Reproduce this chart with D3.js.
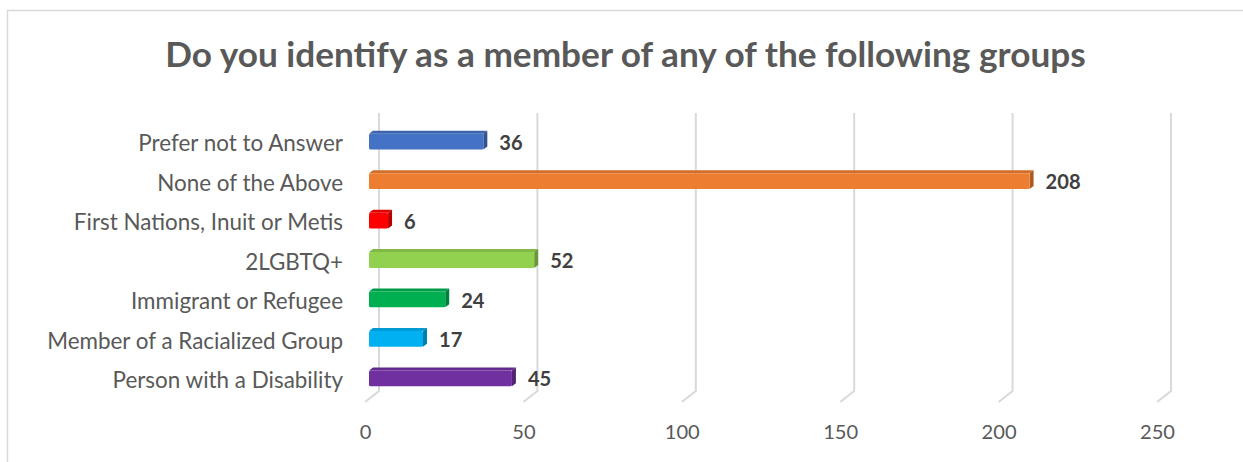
<!DOCTYPE html>
<html>
<head>
<meta charset="utf-8">
<script src="https://cdn.jsdelivr.net/npm/d3@7"></script>
<style>
  body { margin: 0; background: #fff; }
  text { font-family: Lato, "Open Sans", sans-serif; }
</style>
</head>
<body>
<div id="chart"></div>
<script>
var title = 'Do you identify as a member of any of the following groups';
var categories = ['Prefer not to Answer', 'None of the Above', 'First Nations, Inuit or Metis',
                  '2LGBTQ+', 'Immigrant or Refugee', 'Member of a Racialized Group', 'Person with a Disability'];
var values = [36, 208, 6, 52, 24, 17, 45];
var colors = ['#4472c4', '#ed7d31', '#ff0000', '#92d050', '#00b050', '#00b0f0', '#7030a0'];
var tickValues = [0, 50, 100, 150, 200, 250];

var width = 1243, height = 462,
    depth = {x: 4, y: -3};   // bar 3d offset

var svg = d3.select('#chart').append('svg')
    .attr('width', width)
    .attr('height', height);

// chart frame (runs off the right and bottom of the picture)
svg.append('rect')
    .attr('x', 7.5).attr('y', 10.5)
    .attr('width', 1400).attr('height', 600)
    .attr('fill', 'none')
    .attr('stroke', '#d9d9d9')
    .attr('stroke-width', 1.5);

// scales: bars sit at mid depth, gridlines on back wall, labels on the front edge
var xBar = d3.scaleLinear().domain([0, 250]).range([369, 1163]);
var xBack = d3.scaleLinear().domain([0, 250]).range([379, 1171]);
var xFront = d3.scaleLinear().domain([0, 250]).range([365, 1157]);
var y = d3.scaleBand().domain(categories).range([122, 398])
    .paddingInner(0.6).paddingOuter(0.3);

// shrink/grow a font so text spans the wanted width
function fitFont(sel, target, size) {
    sel.style('font-size', size + 'px');
    var w = d3.max(sel.nodes(), function (n) { return n.getComputedTextLength(); });
    sel.style('font-size', (size * target / w) + 'px');
}

// title
var t = svg.append('text')
    .attr('x', 625.5).attr('y', 67)
    .attr('text-anchor', 'middle')
    .attr('fill', '#595959')
    .style('font-weight', 'bold')
    .text(title);
fitFont(t, 921, 28);

// gridlines
svg.append('g').selectAll('path')
    .data(tickValues)
    .join('path')
    .attr('d', function (d) {
        return 'M' + xBack(d) + ',113V391L' + xFront(d) + ',402';
    })
    .attr('fill', 'none')
    .attr('stroke', '#d9d9d9')
    .attr('stroke-width', 2);

// x axis labels
var xAxis = d3.axisBottom(xFront).tickValues(tickValues).tickSize(0).tickPadding(0);
var ax = svg.append('g').attr('transform', 'translate(0,439)').call(xAxis);
ax.select('.domain').remove();
ax.selectAll('text')
    .attr('y', 0).attr('dy', 0)
    .attr('fill', '#595959')
    .style('font-family', 'Lato, "Open Sans", sans-serif');
fitFont(ax.selectAll('text').filter(function (d) { return d === 250; }), 35, 20);
ax.selectAll('text').style('font-size', ax.selectAll('text').filter(function (d) { return d === 250; }).style('font-size'));

// category labels
var cats = svg.append('g').selectAll('text')
    .data(categories)
    .join('text')
    .attr('x', 343)
    .attr('y', function (d) { return y(d) + y.bandwidth() / 2 + 4; })
    .attr('dominant-baseline', 'middle')
    .attr('text-anchor', 'end')
    .attr('fill', '#595959')
    .text(function (d) { return d; });
fitFont(cats, 296, 20);

// 3d bars
var bars = svg.append('g').selectAll('g')
    .data(values)
    .join('g');

bars.append('path') // top face
    .attr('d', function (d, i) {
        var x0 = xBar(0), x1 = xBar(d), y0 = y(categories[i]);
        return 'M' + x0 + ',' + y0 + 'L' + x1 + ',' + y0 + 'L' + (x1 + depth.x) + ',' + (y0 + depth.y) +
            'L' + (x0 + depth.x) + ',' + (y0 + depth.y) + 'Z';
    })
    .attr('fill', function (d, i) { return d3.color(colors[i]).darker(0.35); });

bars.append('path') // right face
    .attr('d', function (d, i) {
        var x1 = xBar(d), y0 = y(categories[i]), h = y.bandwidth();
        return 'M' + x1 + ',' + y0 + 'L' + (x1 + depth.x) + ',' + (y0 + depth.y) +
            'L' + (x1 + depth.x) + ',' + (y0 + h + depth.y) + 'L' + x1 + ',' + (y0 + h) + 'Z';
    })
    .attr('fill', function (d, i) { return d3.color(colors[i]).darker(0.9); });

bars.append('rect') // front face
    .attr('x', xBar(0))
    .attr('y', function (d, i) { return y(categories[i]); })
    .attr('width', function (d) { return xBar(d) - xBar(0); })
    .attr('height', y.bandwidth())
    .attr('rx', 1.5)
    .attr('fill', function (d, i) { return colors[i]; });

// value labels
var vals = svg.append('g').selectAll('text')
    .data(values)
    .join('text')
    .attr('x', function (d) { return xBar(d) + 16; })
    .attr('y', function (d, i) { return y(categories[i]) + y.bandwidth() / 2 + 3; })
    .attr('dominant-baseline', 'middle')
    .attr('fill', '#404040')
    .style('font-weight', 'bold')
    .text(function (d) { return d; });
fitFont(vals.filter(function (d) { return d === 208; }), 35, 20);
vals.style('font-size', vals.filter(function (d) { return d === 208; }).style('font-size'));
</script>
</body>
</html>
